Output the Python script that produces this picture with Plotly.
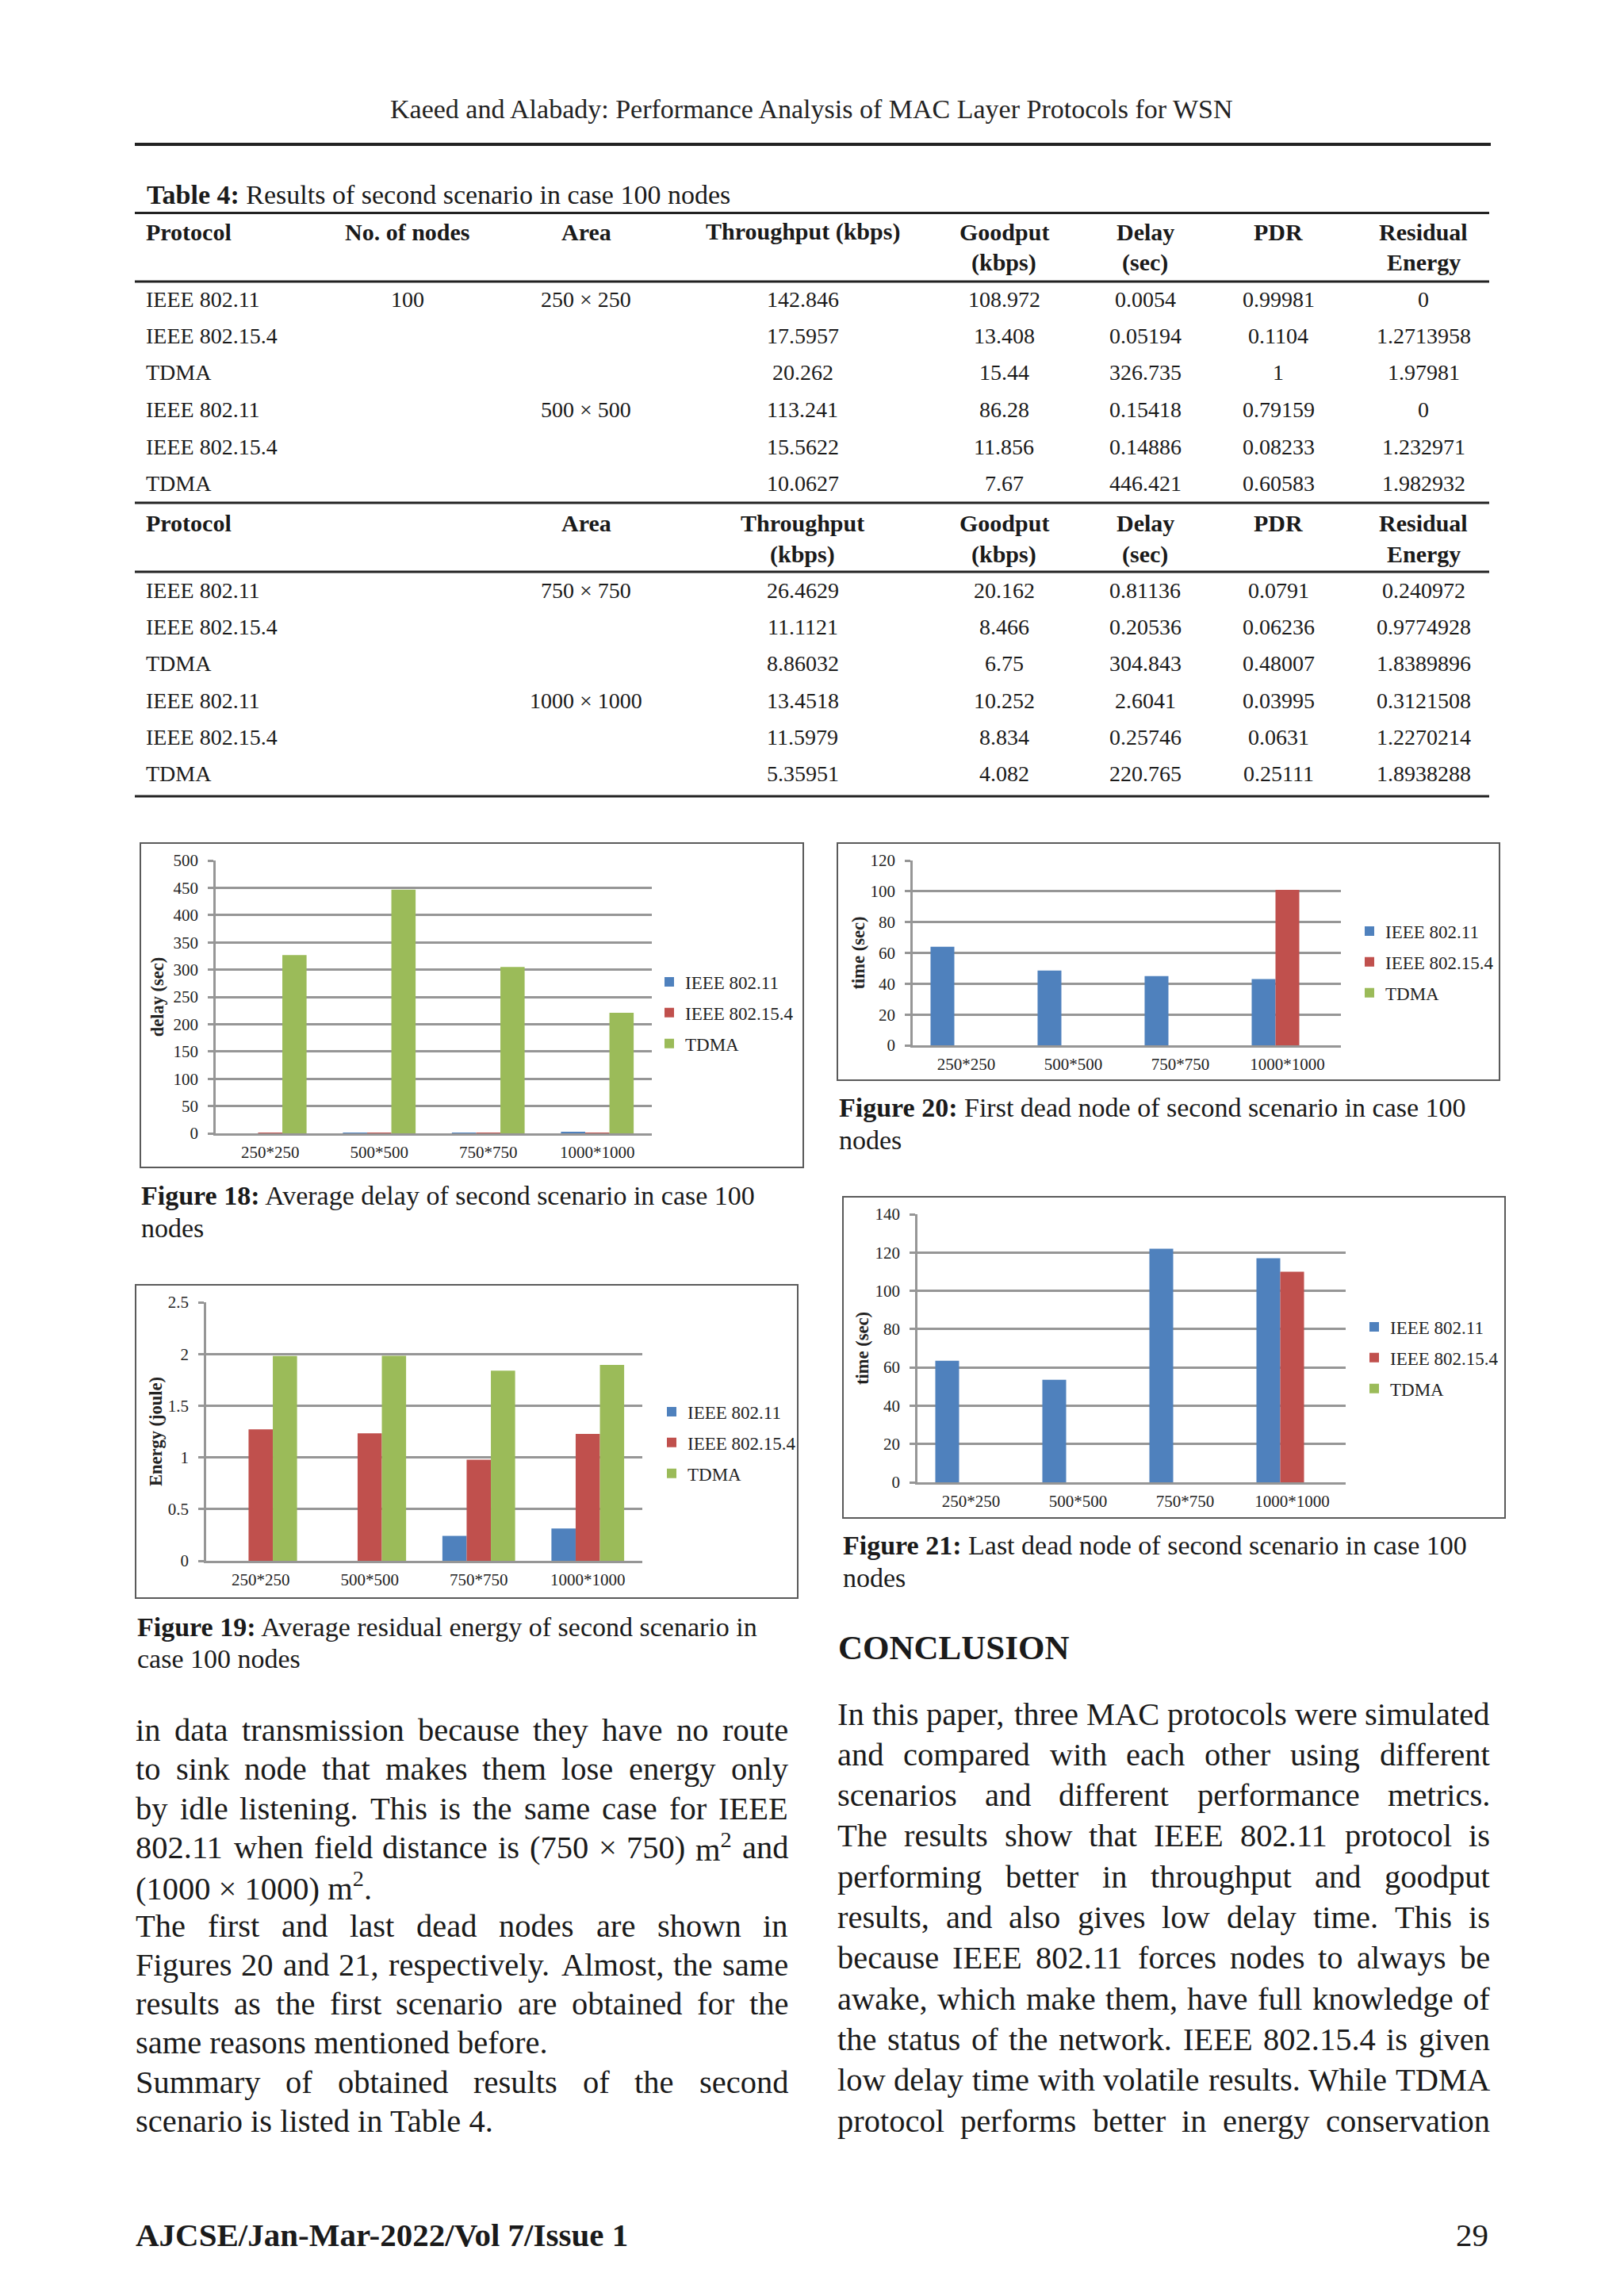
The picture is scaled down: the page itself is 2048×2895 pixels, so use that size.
import re
import plotly.graph_objects as go

W, H = 2048, 2895
OFF = 8  # default <body> margin of the written page
SERIF = "Liberation Serif, Times New Roman, serif"
INK = "#1a1a1a"
GRID = "#969696"

# ---------------- data ----------------
categories = ["250*250", "500*500", "750*750", "1000*1000"]
protocols = ["IEEE 802.11", "IEEE 802.15.4", "TDMA"]
colors = ["#4F81BD", "#C0504D", "#9BBB59"]

delay_80211 = [0.0054, 0.15418, 0.81136, 2.6041]
delay_802154 = [0.05194, 0.14886, 0.20536, 0.25746]
delay_tdma = [326.735, 446.421, 304.843, 220.765]

energy_80211 = [0, 0, 0.240972, 0.3121508]
energy_802154 = [1.2713958, 1.232971, 0.9774928, 1.2270214]
energy_tdma = [1.97981, 1.982932, 1.8389896, 1.8938288]

first_dead_80211 = [64, 48.5, 45, 43]
first_dead_802154 = [0, 0, 0, 101]
first_dead_tdma = [0, 0, 0, 0]

last_dead_80211 = [63.5, 53.5, 122, 117]
last_dead_802154 = [0, 0, 0, 110]
last_dead_tdma = [0, 0, 0, 0]

# Table 4 (strings as printed)
tbl_protocol = ["IEEE 802.11", "IEEE 802.15.4", "TDMA", "IEEE 802.11", "IEEE 802.15.4", "TDMA"]
tbl1_nodes = ["100", "", "", "", "", ""]
tbl1_area = ["250 × 250", "", "", "500 × 500", "", ""]
tbl1_throughput = ["142.846", "17.5957", "20.262", "113.241", "15.5622", "10.0627"]
tbl1_goodput = ["108.972", "13.408", "15.44", "86.28", "11.856", "7.67"]
tbl1_delay = ["0.0054", "0.05194", "326.735", "0.15418", "0.14886", "446.421"]
tbl1_pdr = ["0.99981", "0.1104", "1", "0.79159", "0.08233", "0.60583"]
tbl1_energy = ["0", "1.2713958", "1.97981", "0", "1.232971", "1.982932"]

tbl2_area = ["750 × 750", "", "", "1000 × 1000", "", ""]
tbl2_throughput = ["26.4629", "11.1121", "8.86032", "13.4518", "11.5979", "5.35951"]
tbl2_goodput = ["20.162", "8.466", "6.75", "10.252", "8.834", "4.082"]
tbl2_delay = ["0.81136", "0.20536", "304.843", "2.6041", "0.25746", "220.765"]
tbl2_pdr = ["0.0791", "0.06236", "0.48007", "0.03995", "0.0631", "0.25111"]
tbl2_energy = ["0.240972", "0.9774928", "1.8389896", "0.3121508", "1.2270214", "1.8938288"]

left_lines = [
    ("in data transmission because they have no route", True),
    ("to sink node that makes them lose energy only", True),
    ("by idle listening. This is the same case for IEEE", True),
    ("802.11 when field distance is (750 × 750) m<sup>2</sup> and", True),
    ("(1000 × 1000) m<sup>2</sup>.", False),
    ("The first and last dead nodes are shown in", True),
    ("Figures 20 and 21, respectively. Almost, the same", True),
    ("results as the first scenario are obtained for the", True),
    ("same reasons mentioned before.", False),
    ("Summary of obtained results of the second", True),
    ("scenario is listed in Table 4.", False),
]
right_lines = [
    ("In this paper, three MAC protocols were simulated", True),
    ("and compared with each other using different", True),
    ("scenarios and different performance metrics.", True),
    ("The results show that IEEE 802.11 protocol is", True),
    ("performing better in throughput and goodput", True),
    ("results, and also gives low delay time. This is", True),
    ("because IEEE 802.11 forces nodes to always be", True),
    ("awake, which make them, have full knowledge of", True),
    ("the status of the network. IEEE 802.15.4 is given", True),
    ("low delay time with volatile results. While TDMA", True),
    ("protocol performs better in energy conservation", True),
]

# ---------------- helpers ----------------
def px(x):
    return (x - OFF) / W


def py(y):
    return 1 - (y - OFF) / H


annotations = []
shapes = []


def text(x, y, s, size, bold=False, anchor="left", color=INK, family=SERIF):
    if bold:
        s = f"<b>{s}</b>"
    annotations.append(dict(
        x=px(x), y=py(y), xref="paper", yref="paper", text=s, showarrow=False,
        xanchor=anchor, yanchor="middle", borderpad=0,
        font=dict(family=family, size=size, color=color)))


def hline(x0, x1, y, width, color="#222222"):
    shapes.append(dict(type="line", xref="paper", yref="paper", x0=px(x0), x1=px(x1),
                       y0=py(y), y1=py(y), line=dict(color=color, width=width)))


def box(x0, y0, x1, y1):
    shapes.append(dict(type="rect", xref="paper", yref="paper", x0=px(x0), x1=px(x1),
                       y0=py(y1), y1=py(y0), line=dict(color="#5a5a5a", width=2),
                       fillcolor="rgba(0,0,0,0)"))


TIMES_W = {' ': 250, '!': 333, '(': 333, ')': 333, '*': 500, ',': 250, '-': 333, '.': 250,
           '/': 278, ':': 278, ';': 278, '×': 564, '?': 444, "'": 333,
           'A': 722, 'B': 667, 'C': 667, 'D': 722, 'E': 611, 'F': 556, 'G': 722, 'H': 722,
           'I': 333, 'J': 389, 'K': 722, 'L': 611, 'M': 889, 'N': 722, 'O': 722, 'P': 556,
           'Q': 722, 'R': 667, 'S': 556, 'T': 611, 'U': 722, 'V': 722, 'W': 944, 'X': 722,
           'Y': 722, 'Z': 611,
           'a': 444, 'b': 500, 'c': 444, 'd': 500, 'e': 444, 'f': 333, 'g': 500, 'h': 500,
           'i': 278, 'j': 278, 'k': 500, 'l': 278, 'm': 778, 'n': 500, 'o': 500, 'p': 500,
           'q': 500, 'r': 333, 's': 389, 't': 278, 'u': 500, 'v': 500, 'w': 722, 'x': 500,
           'y': 500, 'z': 444}


def word_width(word):
    total = 0.0
    for part in re.split(r"(<sup>.*?</sup>)", word):
        if part.startswith("<sup>"):
            total += 0.7 * sum(TIMES_W.get(c, 500) for c in part[5:-6])
        else:
            total += sum(TIMES_W.get(c, 500) for c in part)
    return total / 1000.0


def paragraph_line(x0, x1, y, line, size, justify):
    words = line.split(" ")
    if not justify or len(words) == 1:
        text(x0, y, line, size)
        return
    widths = [word_width(w) * size for w in words]
    gap = (x1 - x0 - sum(widths)) / (len(words) - 1)
    x = x0
    for w, wd in zip(words, widths):
        text(x, y, w, size)
        x += wd + gap


# ---------------- page header ----------------
text(1023, 138, "Kaeed and Alabady: Performance Analysis of MAC Layer Protocols for WSN", 34,
     anchor="center", color="#222222")
hline(170, 1880, 182, 4)

# ---------------- table ----------------
text(184, 245, "<b>Table 4:</b> Results of second scenario in case 100 nodes", 34)
hline(170, 1878, 268.5, 3)
hline(170, 1878, 355, 3)
hline(170, 1878, 634, 3)
hline(170, 1878, 721, 3)
hline(170, 1878, 1004, 3)

COL_PROTO = 183
COL_NODES, COL_AREA, COL_THR, COL_GOOD, COL_DELAY, COL_PDR, COL_EN = 514, 739, 1012, 1266, 1444, 1612, 1795
HS, VS = 30, 28

# header block 1
H1a, H1b = 292, 331
text(COL_PROTO, H1a, "Protocol", HS, bold=True)
text(COL_NODES, H1a, "No. of nodes", HS, bold=True, anchor="center")
text(COL_AREA, H1a, "Area", HS, bold=True, anchor="center")
text(COL_THR, H1a, "Throughput (kbps)", HS, bold=True, anchor="center")
text(COL_GOOD, H1a, "Goodput", HS, bold=True, anchor="center")
text(COL_GOOD, H1b, "(kbps)", HS, bold=True, anchor="center")
text(COL_DELAY, H1a, "Delay", HS, bold=True, anchor="center")
text(COL_DELAY, H1b, "(sec)", HS, bold=True, anchor="center")
text(COL_PDR, H1a, "PDR", HS, bold=True, anchor="center")
text(COL_EN, H1a, "Residual", HS, bold=True, anchor="center")
text(COL_EN, H1b, "Energy", HS, bold=True, anchor="center")

rows1_y = [377, 423.5, 470, 516.5, 563, 609.5]
for i, y in enumerate(rows1_y):
    text(COL_PROTO, y, tbl_protocol[i], VS)
    if tbl1_nodes[i]:
        text(COL_NODES, y, tbl1_nodes[i], VS, anchor="center")
    if tbl1_area[i]:
        text(COL_AREA, y, tbl1_area[i], VS, anchor="center")
    text(COL_THR, y, tbl1_throughput[i], VS, anchor="center")
    text(COL_GOOD, y, tbl1_goodput[i], VS, anchor="center")
    text(COL_DELAY, y, tbl1_delay[i], VS, anchor="center")
    text(COL_PDR, y, tbl1_pdr[i], VS, anchor="center")
    text(COL_EN, y, tbl1_energy[i], VS, anchor="center")

# header block 2
H2a, H2b = 659, 699
text(COL_PROTO, H2a, "Protocol", HS, bold=True)
text(COL_AREA, H2a, "Area", HS, bold=True, anchor="center")
text(COL_THR, H2a, "Throughput", HS, bold=True, anchor="center")
text(COL_THR, H2b, "(kbps)", HS, bold=True, anchor="center")
text(COL_GOOD, H2a, "Goodput", HS, bold=True, anchor="center")
text(COL_GOOD, H2b, "(kbps)", HS, bold=True, anchor="center")
text(COL_DELAY, H2a, "Delay", HS, bold=True, anchor="center")
text(COL_DELAY, H2b, "(sec)", HS, bold=True, anchor="center")
text(COL_PDR, H2a, "PDR", HS, bold=True, anchor="center")
text(COL_EN, H2a, "Residual", HS, bold=True, anchor="center")
text(COL_EN, H2b, "Energy", HS, bold=True, anchor="center")

rows2_y = [744, 790.5, 837, 883, 929.5, 976]
for i, y in enumerate(rows2_y):
    text(COL_PROTO, y, tbl_protocol[i], VS)
    if tbl2_area[i]:
        text(COL_AREA, y, tbl2_area[i], VS, anchor="center")
    text(COL_THR, y, tbl2_throughput[i], VS, anchor="center")
    text(COL_GOOD, y, tbl2_goodput[i], VS, anchor="center")
    text(COL_DELAY, y, tbl2_delay[i], VS, anchor="center")
    text(COL_PDR, y, tbl2_pdr[i], VS, anchor="center")
    text(COL_EN, y, tbl2_energy[i], VS, anchor="center")

# ---------------- charts ----------------
specs = [
    dict(n=1, x0=272, x1=822, ytop=1085, ybot=1429, rng=[0, 500], dtick=50,
         series=[delay_80211, delay_802154, delay_tdma], title="delay (sec)", standoff=6,
         leg=(824, 1277), box=(177, 1063, 1013, 1472)),
    dict(n=2, x0=1151, x1=1691, ytop=1085, ybot=1318, rng=[0, 120], dtick=20,
         series=[first_dead_80211, first_dead_802154, first_dead_tdma], title="time (sec)",
         standoff=1, leg=(1707, 1213), box=(1056, 1063, 1891, 1362)),
    dict(n=3, x0=260, x1=810, ytop=1642, ybot=1968, rng=[0, 2.5], dtick=0.5,
         series=[energy_80211, energy_802154, energy_tdma], title="Energy (joule)",
         standoff=1, leg=(827, 1819), box=(171, 1620, 1006, 2015)),
    dict(n=4, x0=1157, x1=1697, ytop=1531, ybot=1869, rng=[0, 140], dtick=20,
         series=[last_dead_80211, last_dead_802154, last_dead_tdma], title="time (sec)",
         standoff=2, leg=(1713, 1712), box=(1063, 1509, 1898, 1914)),
]

fig = go.Figure()
layout = {}
TICKFONT = dict(family=SERIF, size=21, color="#222222")

for s in specs:
    n = s["n"]
    sfx = "" if n == 1 else str(n)
    legname = "legend" if n == 1 else f"legend{n}"
    for i, vals in enumerate(s["series"]):
        fig.add_trace(go.Bar(
            x=categories, y=vals, name=protocols[i], marker_color=colors[i],
            marker_line_width=0, xaxis=f"x{sfx}", yaxis=f"y{sfx}",
            legend=legname, legendgroup=f"g{n}_{i}", showlegend=True))
    layout[f"xaxis{sfx}"] = dict(
        domain=[px(s["x0"]), px(s["x1"])], anchor=f"y{sfx}", type="category",
        showgrid=False, showline=True, linecolor=GRID, linewidth=2.5, ticks="",
        tickfont=TICKFONT, ticklabelstandoff=3, zeroline=False, fixedrange=True)
    layout[f"yaxis{sfx}"] = dict(
        domain=[py(s["ybot"]), py(s["ytop"])], anchor=f"x{sfx}", range=s["rng"],
        tick0=0, dtick=s["dtick"], showgrid=True, gridcolor=GRID, gridwidth=2.5,
        showline=True, linecolor=GRID, linewidth=2.5, ticks="outside", ticklen=7,
        tickcolor=GRID, tickwidth=2.5, tickfont=TICKFONT, ticklabelstandoff=8,
        zeroline=False, fixedrange=True,
        title=dict(text=f"<b>{s['title']}</b>", standoff=s["standoff"],
                   font=dict(family=SERIF, size=22.5, color="#222222")))
    layout[legname] = dict(
        x=px(s["leg"][0]), y=py(s["leg"][1]), xanchor="left", yanchor="middle",
        font=dict(family=SERIF, size=23, color="#222222"), bgcolor="rgba(0,0,0,0)",
        traceorder="grouped", tracegroupgap=6, itemclick=False, itemdoubleclick=False)
    box(*s["box"])

# figure captions
text(176.5, 1507, "<b>Figure 18:</b> Average delay of second scenario in case 100", 34)
text(176.5, 1549, "nodes", 34)
text(1056.5, 1396, "<b>Figure 20:</b> First dead node of second scenario in case 100", 34)
text(1056.5, 1437, "nodes", 34)
text(171.5, 2051, "<b>Figure 19:</b> Average residual energy of second scenario in", 34)
text(171.5, 2091, "case 100 nodes", 34)
text(1062, 1948, "<b>Figure 21:</b> Last dead node of second scenario in case 100", 34)
text(1062, 1989, "nodes", 34)

text(1056, 2077, "CONCLUSION", 43, bold=True)

# ---------------- body text ----------------
BODY = 40.5
for k, (line, just) in enumerate(left_lines):
    paragraph_line(170, 993, 2181.5 + k * 49.3, line, BODY, just)
for k, (line, just) in enumerate(right_lines):
    paragraph_line(1055, 1878, 2161 + k * 51.3, line, BODY, just)

# ---------------- footer ----------------
text(170, 2818, "AJCSE/Jan-Mar-2022/Vol 7/Issue 1", 41, bold=True)
text(1878, 2818, "29", 41, anchor="right")

fig.update_layout(
    width=W, height=H, margin=dict(l=0, r=0, t=0, b=0, pad=0, autoexpand=False),
    paper_bgcolor="white", plot_bgcolor="white",
    bargap=0.333, bargroupgap=0, barmode="group", showlegend=True,
    annotations=annotations, shapes=shapes, **layout)

fig.write_html("out.html", config={"displayModeBar": False})
